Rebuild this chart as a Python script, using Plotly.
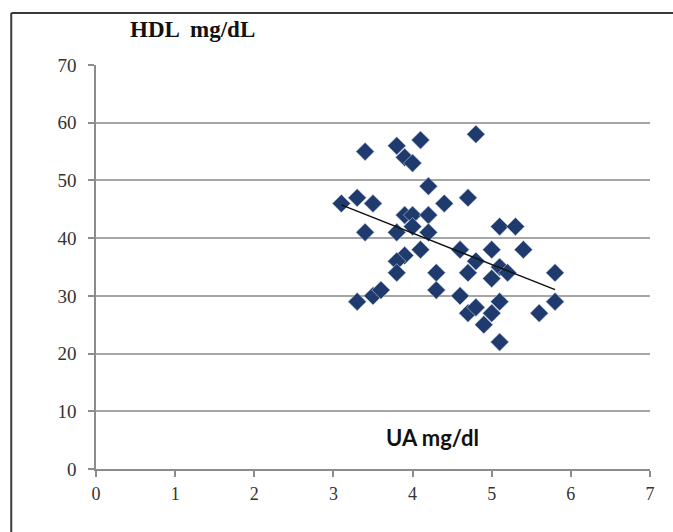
import numpy as np
import plotly.graph_objects as go

# Data
ua = [3.1, 3.3, 3.4, 3.4, 3.5, 3.3, 3.5, 3.6,
      3.8, 3.9, 4.0, 4.1, 3.9, 4.0, 3.8, 3.9,
      3.8, 3.8, 4.0, 4.1, 4.2, 4.2, 4.2, 4.3,
      4.3, 4.4, 4.8, 4.7, 4.6, 4.7, 4.8, 4.6,
      4.7, 4.8, 4.9, 5.0, 5.0, 5.0, 5.1, 5.1,
      5.2, 5.1, 5.1, 5.3, 5.4, 5.6, 5.8, 5.8]
hdl = [46, 47, 55, 41, 46, 29, 30, 31,
       56, 54, 53, 57, 44, 44, 41, 37,
       36, 34, 42, 38, 44, 49, 41, 34,
       31, 46, 58, 47, 38, 34, 36, 30,
       27, 28, 25, 27, 38, 33, 42, 35,
       34, 29, 22, 42, 38, 27, 34, 29]
x_ticks = [0, 1, 2, 3, 4, 5, 6, 7]
y_ticks = [0, 10, 20, 30, 40, 50, 60, 70]

# Linear trend line (least squares) across the data range
slope, intercept = np.polyfit(ua, hdl, 1)
tx = [min(ua), max(ua)]
ty = [slope * v + intercept for v in tx]

fig = go.Figure()
fig.add_trace(go.Scatter(
    x=ua, y=hdl, mode="markers",
    marker=dict(symbol="diamond", size=14, color="#1F3B6E",
                line=dict(width=0.6, color="#c8d0e0")),
    showlegend=False, hoverinfo="x+y"))
fig.add_trace(go.Scatter(
    x=tx, y=ty, mode="lines",
    line=dict(color="#111111", width=1.5),
    showlegend=False, hoverinfo="skip"))

border = dict(color="#3a3a3a", width=2)
fig.update_layout(
    width=673, height=532,
    margin=dict(l=96, r=23, t=65, b=63),
    paper_bgcolor="white", plot_bgcolor="white",
    xaxis=dict(range=[0, 7], tickvals=x_ticks, showgrid=False, zeroline=False,
               showline=True, linecolor="#8c8c8c", linewidth=1.5,
               ticks="outside", ticklen=6, tickcolor="#8c8c8c", tickwidth=1.5,
               ticklabelstandoff=2,
               tickfont=dict(family="Liberation Serif", size=18, color="#333333")),
    yaxis=dict(range=[0, 70], tickvals=y_ticks, showgrid=True, gridcolor="#a6a6a6",
               gridwidth=1.5, zeroline=False,
               showline=True, linecolor="#8c8c8c", linewidth=1.5,
               ticks="outside", ticklen=6, tickcolor="#8c8c8c", tickwidth=1.5,
               ticklabelstandoff=8,
               tickfont=dict(family="Liberation Serif", size=19, color="#333333")),
    shapes=[
        dict(type="line", xref="paper", yref="paper",
             x0=-0.153, x1=1.2, y0=1.129, y1=1.129, line=border, layer="below"),
        dict(type="line", xref="paper", yref="paper",
             x0=-0.153, x1=-0.153, y0=-0.4, y1=1.129, line=border, layer="below"),
    ],
    annotations=[
        dict(text="<b>HDL  mg/dL</b>", xref="paper", yref="paper",
             x=0.175, y=1.087, showarrow=False, xanchor="center", yanchor="middle",
             font=dict(family="Liberation Serif", size=23, color="#111111")),
        dict(text="<b>UA mg/dl</b>", xref="paper", yref="paper",
             x=0.608, y=0.077, showarrow=False, xanchor="center", yanchor="middle",
             font=dict(family="Lato", size=22, color="#111111")),
    ],
)

fig.write_html("out.html",
               config={"displayModeBar": False},
               post_script="document.body.style.margin='0';document.body.style.overflow='hidden';")
